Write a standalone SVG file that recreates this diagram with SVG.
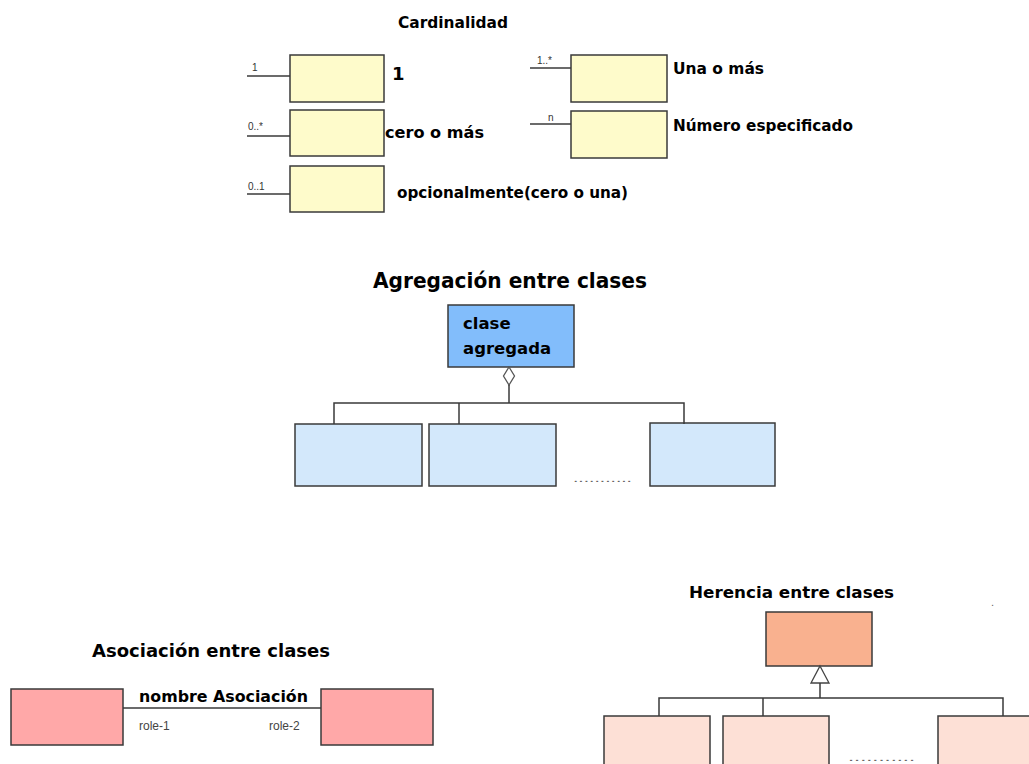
<svg xmlns="http://www.w3.org/2000/svg" width="1029" height="764" viewBox="0 0 1029 764">
<style>
.bg{fill:#ffffff}
.box{stroke:#3a3a3a;stroke-width:1.5}
.yel{fill:#fefbcb}
.blu{fill:#82bdfb}
.lblu{fill:#d3e8fb}
.pink{fill:#ffa8a8}
.sal{fill:#f9b18f}
.lsal{fill:#fde0d6}
.ln{stroke:#3a3a3a;stroke-width:1.5;fill:none}
.t{font-family:"DejaVu Sans",Verdana,sans-serif;font-weight:bold;fill:#000}
.s{font-family:"Liberation Sans",Arial,sans-serif;fill:#333;font-size:10px}
.r{font-family:"Liberation Sans",Arial,sans-serif;fill:#444;font-size:12px}
.dots{font-family:"Liberation Sans",Arial,sans-serif;fill:#666;font-size:11px}
</style>
<rect class="bg" x="0" y="0" width="1029" height="764"/>

<!-- Cardinalidad -->
<text class="t" x="398" y="28" font-size="15.5" textLength="110" lengthAdjust="spacingAndGlyphs">Cardinalidad</text>
<g id="card-1">
<rect class="box yel" x="290" y="55" width="94" height="47"/>
<text class="s" x="252" y="71">1</text>
<text class="t" x="392" y="80" font-size="18">1</text>
</g>
<g id="card-0many">
<rect class="box yel" x="290" y="110" width="94" height="46"/>
<text class="s" x="248" y="130">0..*</text>
<text class="t" x="385" y="138" font-size="16" textLength="99" lengthAdjust="spacingAndGlyphs">cero o más</text>
</g>
<g id="card-01">
<rect class="box yel" x="290" y="166" width="94" height="46"/>
<text class="s" x="248" y="190">0..1</text>
<text class="t" x="397" y="198" font-size="16" textLength="231" lengthAdjust="spacingAndGlyphs">opcionalmente(cero o una)</text>
</g>
<g id="card-1many">
<rect class="box yel" x="571" y="55" width="96" height="47"/>
<text class="s" x="537" y="64" font-size="9">1..*</text>
<text class="t" x="673" y="74" font-size="16" textLength="91" lengthAdjust="spacingAndGlyphs">Una o más</text>
</g>
<g id="card-n">
<rect class="box yel" x="571" y="111" width="96" height="47"/>
<text class="s" x="548" y="121" font-size="9">n</text>
<text class="t" x="673" y="131" font-size="16" textLength="180" lengthAdjust="spacingAndGlyphs">Número especificado</text>
</g>

<!-- Agregación -->
<text class="t" x="373" y="288" font-size="21" textLength="274" lengthAdjust="spacingAndGlyphs">Agregación entre clases</text>
<g id="agregada">
<rect class="box blu" x="448" y="305" width="126" height="62"/>
<text class="t" x="463" y="329" font-size="16.5" fill="#0a0a30">clase</text>
<text class="t" x="463" y="354" font-size="16.5" fill="#0a0a30">agregada</text>
</g>
<g id="agg-part1"><rect class="box lblu" x="295" y="424" width="127" height="62"/></g>
<g id="agg-part2"><rect class="box lblu" x="429" y="424" width="127" height="62"/></g>
<g id="agg-part3"><rect class="box lblu" x="650" y="423" width="125" height="63"/></g>
<text class="dots" x="573" y="482" textLength="59" lengthAdjust="spacingAndGlyphs">...........</text>

<!-- Asociación -->
<text class="t" x="92" y="657" font-size="18" textLength="238" lengthAdjust="spacingAndGlyphs">Asociación entre clases</text>
<g id="asoc-left"><rect class="box pink" x="11" y="689" width="112" height="56"/></g>
<g id="asoc-right"><rect class="box pink" x="321" y="689" width="112" height="56"/></g>

<!-- Herencia -->
<text class="t" x="689" y="598" font-size="16" textLength="205" lengthAdjust="spacingAndGlyphs">Herencia entre clases</text>
<text class="dots" x="991" y="606" font-size="8" fill="#999">.</text>
<g id="her-parent"><rect class="box sal" x="766" y="612" width="106" height="54"/></g>
<g id="her-child1"><rect class="box lsal" x="604" y="716" width="106" height="60"/></g>
<g id="her-child2"><rect class="box lsal" x="723" y="716" width="106" height="60"/></g>
<g id="her-child3"><rect class="box lsal" x="938" y="716" width="100" height="60"/></g>
<text class="dots" x="848" y="761" textLength="67" lengthAdjust="spacingAndGlyphs" fill="#aaa">...........</text>

<!-- Connectors -->
<g id="connectors">
<line class="ln" x1="247" y1="76" x2="290" y2="76"/>
<line class="ln" x1="247" y1="136" x2="290" y2="136"/>
<line class="ln" x1="247" y1="194" x2="290" y2="194"/>
<line class="ln" x1="530" y1="68" x2="571" y2="68"/>
<line class="ln" x1="530" y1="124" x2="571" y2="124"/>

<polygon points="509,367 514.5,376 509,385 503.5,376" fill="#fff" stroke="#555" stroke-width="1.3"/>
<polyline class="ln" points="509,385 509,403"/>
<polyline class="ln" points="334,424 334,403 684,403 684,424"/>
<line class="ln" x1="459" y1="403" x2="459" y2="424"/>

<line class="ln" x1="123" y1="708" x2="321" y2="708"/>
<text class="t" x="139" y="702" font-size="15.5" textLength="169" lengthAdjust="spacingAndGlyphs">nombre Asociación</text>
<text class="r" x="139" y="730">role-1</text>
<text class="r" x="269" y="730">role-2</text>

<polygon points="820,666 829,683 811,683" fill="#fff" stroke="#444" stroke-width="1.3"/>
<line class="ln" x1="820" y1="683" x2="820" y2="698"/>
<polyline class="ln" points="659,716 659,698 1003,698 1003,716"/>
<line class="ln" x1="763" y1="698" x2="763" y2="716"/>
</g>
</svg>
